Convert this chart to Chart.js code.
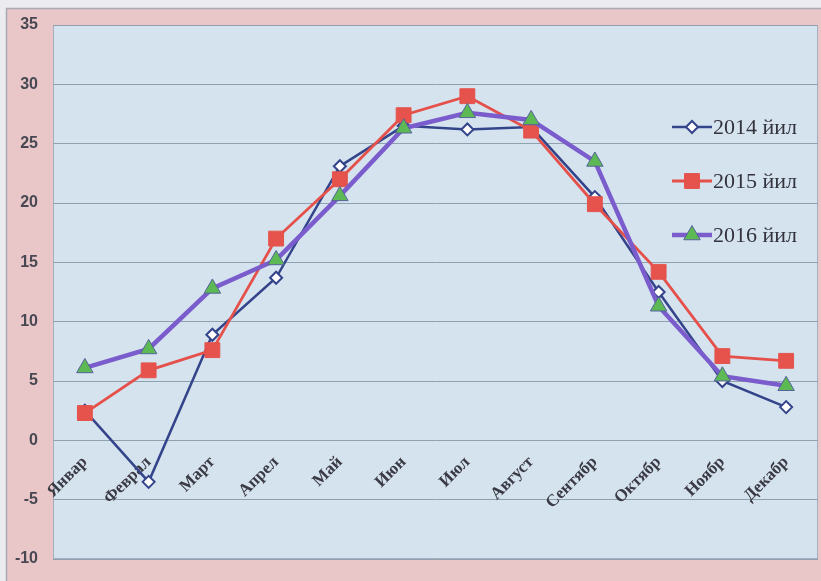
<!DOCTYPE html>
<html>
<head>
<meta charset="utf-8">
<script src="https://cdn.jsdelivr.net/npm/chart.js@4/dist/chart.umd.min.js"></script>
<style>
  html, body { margin: 0; padding: 0; background: #ececf0; }
  #wrap { width: 821px; height: 581px; }
</style>
</head>
<body>
<div id="wrap"><canvas id="c" width="821" height="581"></canvas></div>
<script>
// Monthly values, one array per year
const months = ['Январ', 'Феврал', 'Март', 'Апрел', 'Май', 'Июн', 'Июл', 'Август', 'Сентябр', 'Октябр', 'Ноябр', 'Декабр'];
const seriesNames = ['2014 йил', '2015 йил', '2016 йил'];
const values2014 = [2.5, -3.5, 8.9, 13.7, 23.1, 26.5, 26.2, 26.4, 20.5, 12.5, 5.0, 2.8];
const values2015 = [2.3, 5.9, 7.6, 17.0, 22.0, 27.4, 29.0, 26.1, 19.9, 14.2, 7.1, 6.7];
const values2016 = [6.1, 7.7, 12.8, 15.2, 20.6, 26.3, 27.6, 27.0, 23.5, 11.3, 5.4, 4.6];
const yMin = -10, yMax = 35, yStep = 5;

// Frame: pink border panel with a light blue plotting area
const framePlugin = {
  id: 'frame',
  beforeDraw(chart) {
    const { ctx, chartArea: a, width, height } = chart;
    ctx.save();
    ctx.fillStyle = '#ececf0';
    ctx.fillRect(0, 0, width, height);
    ctx.fillStyle = '#e9c7c9';
    ctx.fillRect(6, 8, width - 6, height - 8);
    ctx.strokeStyle = '#a9a9b3';
    ctx.lineWidth = 1.5;
    ctx.beginPath();
    ctx.moveTo(6.5, height);
    ctx.lineTo(6.5, 8.5);
    ctx.lineTo(width, 8.5);
    ctx.stroke();
    ctx.fillStyle = '#d5e3ef';
    ctx.fillRect(a.left, a.top, a.right - a.left, a.bottom - a.top);
    ctx.strokeStyle = '#a3b0bf';
    ctx.lineWidth = 1;
    ctx.strokeRect(a.left + 0.5, a.top + 0.5, a.right - a.left - 1, a.bottom - a.top - 1);
    ctx.restore();
  }
};

// Marker drawing shared by the in-plot legend
function drawMarker(ctx, ds, x, y) {
  Chart.helpers.drawPoint(ctx, {
    pointStyle: ds.pointStyle,
    radius: ds.pointRadius,
    rotation: 0,
    borderWidth: ds.pointBorderWidth
  }, x, y);
}

// Legend drawn inside the plot area, to the right
const insideLegend = {
  id: 'insideLegend',
  afterDatasetsDraw(chart) {
    const { ctx, chartArea: a } = chart;
    const rows = [a.top + 102, a.top + 156, a.top + 210];
    ctx.save();
    chart.data.datasets.forEach((ds, i) => {
      const y = rows[i];
      const x0 = a.right - 146, x1 = a.right - 106;
      ctx.strokeStyle = ds.borderColor;
      ctx.lineWidth = ds.borderWidth;
      ctx.beginPath();
      ctx.moveTo(x0, y);
      ctx.lineTo(x1, y);
      ctx.stroke();
      ctx.fillStyle = ds.pointBackgroundColor;
      ctx.strokeStyle = ds.pointBorderColor;
      ctx.lineWidth = ds.pointBorderWidth;
      drawMarker(ctx, ds, (x0 + x1) / 2, y);
      ctx.fillStyle = '#33333d';
      ctx.font = '22px "Liberation Serif", "Times New Roman", serif';
      ctx.textAlign = 'left';
      ctx.textBaseline = 'middle';
      ctx.fillText(ds.label, x1 + 1, y + 1);
    });
    ctx.restore();
  }
};

// The rotated month labels sit inside the plot, so they reserve no side margin
const noSidePadding = () => ({ left: 0, top: 0, right: 0, bottom: 0 });

new Chart(document.getElementById('c'), {
  type: 'line',
  data: {
    labels: months,
    datasets: [
      {
        label: seriesNames[0],
        data: values2014,
        borderColor: '#34448a',
        borderWidth: 2.5,
        pointStyle: 'rectRot',
        pointRadius: 6,
        pointBackgroundColor: '#ffffff',
        pointBorderColor: '#34448a',
        pointBorderWidth: 2,
        order: 2
      },
      {
        label: seriesNames[1],
        data: values2015,
        borderColor: '#e6504a',
        borderWidth: 2.8,
        pointStyle: 'rect',
        pointRadius: 10.5,
        pointBackgroundColor: '#e5534c',
        pointBorderColor: '#e5534c',
        pointBorderWidth: 1,
        order: 1
      },
      {
        label: seriesNames[2],
        data: values2016,
        borderColor: '#7a5ccc',
        borderWidth: 4.5,
        pointStyle: 'triangle',
        pointRadius: 9.5,
        pointBackgroundColor: '#5db954',
        pointBorderColor: '#55639a',
        pointBorderWidth: 1,
        order: 0
      }
    ]
  },
  options: {
    responsive: false,
    animation: false,
    layout: { autoPadding: false, padding: { left: 0, top: 25, right: 3, bottom: 22 } },
    plugins: {
      legend: { display: false },
      tooltip: { enabled: false }
    },
    elements: { line: { tension: 0 } },
    scales: {
      x: {
        type: 'category',
        offset: true,
        position: { y: 0 },
        grid: { display: false },
        border: { display: false },
        ticks: {
          autoSkip: false,
          minRotation: 45,
          maxRotation: 45,
          padding: 4,
          color: '#3a3a44',
          font: { family: '"Liberation Serif", "Times New Roman", serif', size: 17, weight: 'bold' }
        },
        beforeUpdate(scale) { scale.getPadding = noSidePadding; },
        afterFit(scale) { scale.paddingLeft = 0; scale.paddingRight = 0; }
      },
      y: {
        min: yMin,
        max: yMax,
        ticks: {
          stepSize: yStep,
          padding: 15,
          color: '#484853',
          font: { family: '"Liberation Sans", Arial, sans-serif', size: 16, weight: 'bold' }
        },
        grid: { color: '#8fa0ae', lineWidth: 1, drawTicks: false },
        border: { display: false },
        beforeUpdate(scale) { scale.getPadding = noSidePadding; },
        afterFit(scale) { scale.width = 53; }
      }
    }
  },
  plugins: [framePlugin, insideLegend]
});
</script>
</body>
</html>
